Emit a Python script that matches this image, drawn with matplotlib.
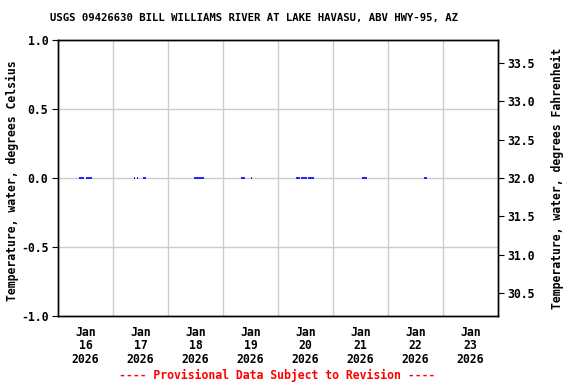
import matplotlib
matplotlib.use("Agg")
import matplotlib.pyplot as plt
import matplotlib.dates as mdates
import numpy as np
import pandas as pd

title = "USGS 09426630 BILL WILLIAMS RIVER AT LAKE HAVASU, ABV HWY-95, AZ"
ylabel_left = "Temperature, water, degrees Celsius"
ylabel_right = "Temperature, water, degrees Fahrenheit"
footer = "---- Provisional Data Subject to Revision ----"

# observed segments (start, end) with water temperature in deg C
seg_start = ["2026-01-16 09:00", "2026-01-16 12:00", "2026-01-17 09:00", "2026-01-17 10:30",
             "2026-01-17 13:15", "2026-01-18 11:15", "2026-01-19 08:00", "2026-01-19 12:00",
             "2026-01-20 08:00", "2026-01-20 10:15", "2026-01-20 13:15", "2026-01-21 12:30",
             "2026-01-22 15:30"]
seg_end = ["2026-01-16 11:15", "2026-01-16 15:00", "2026-01-17 09:45", "2026-01-17 11:00",
           "2026-01-17 14:15", "2026-01-18 15:30", "2026-01-19 09:30", "2026-01-19 12:30",
           "2026-01-20 09:30", "2026-01-20 12:30", "2026-01-20 15:30", "2026-01-21 14:45",
           "2026-01-22 17:00"]
seg_value = [0.0, 0.0, 0.0, 0.0, 0.0, 0.0, 0.0, 0.0, 0.0, 0.0, 0.0, 0.0, 0.0]

day_labels = ["Jan\n16\n2026", "Jan\n17\n2026", "Jan\n18\n2026", "Jan\n19\n2026",
              "Jan\n20\n2026", "Jan\n21\n2026", "Jan\n22\n2026", "Jan\n23\n2026"]
left_ticks = [-1.0, -0.5, 0.0, 0.5, 1.0]
right_ticks = [30.5, 31.0, 31.5, 32.0, 32.5, 33.0, 33.5]

FONT = "DejaVu Sans Mono"
FS = 8.3
FS_TITLE = 7.7

fig = plt.figure(figsize=(5.76, 3.84), dpi=100)
ax = fig.add_axes([58/576, 1-316/384, 440/576, 276/384])

for s, e, v in zip(seg_start, seg_end, seg_value):
    ax.plot([pd.Timestamp(s), pd.Timestamp(e)], [v, v], color="#0000ff", lw=1.2,
            solid_capstyle="butt")

x0 = pd.Timestamp("2026-01-16")
x1 = pd.Timestamp("2026-01-24")
ax.set_xlim(x0, x1)
ax.set_ylim(-1.0, 1.0)

midnights = pd.date_range("2026-01-17", "2026-01-23", freq="D")
for m in midnights:
    ax.axvline(m, color="#cccccc", lw=1.0, zorder=0)
for yv in [-0.5, 0.0, 0.5]:
    ax.axhline(yv, color="#cccccc", lw=1.0, zorder=0)

noons = pd.date_range("2026-01-16 12:00", periods=8, freq="D")
ax.set_xticks(noons)
ax.set_xticklabels(day_labels, fontfamily=FONT, fontweight="bold", fontsize=FS,
                   linespacing=1.05)
ax.tick_params(axis="x", length=0, pad=7)

ax.set_yticks(left_ticks)
ax.set_yticklabels([f"{t:.1f}" for t in left_ticks], fontfamily=FONT,
                   fontweight="bold", fontsize=FS)
ax.tick_params(axis="y", direction="out", length=4, width=0.8, pad=3)
ax.set_ylabel(ylabel_left, fontfamily=FONT, fontweight="bold", fontsize=FS)
ax.yaxis.set_label_coords((19-58)/440, 0.49)

ax2 = ax.twinx()
ax2.set_ylim(-1.0 * 1.8 + 32, 1.0 * 1.8 + 32)
ax2.set_yticks(right_ticks)
ax2.set_yticklabels([f"{t:.1f}" for t in right_ticks], fontfamily=FONT,
                    fontweight="bold", fontsize=FS)
ax2.tick_params(axis="y", direction="out", length=4, width=0.8, pad=3)
ax2.set_ylabel(ylabel_right, fontfamily=FONT, fontweight="bold", fontsize=FS)
ax2.yaxis.set_label_coords((551-58)/440, 0.5)

for a in (ax, ax2):
    for sp in a.spines.values():
        sp.set_color("black")
        sp.set_linewidth(1.0)

fig.text(254/576, 1-18/384, title, ha="center", va="center", fontfamily=FONT,
         fontweight="bold", fontsize=FS_TITLE)
fig.text(277/576, 1-375/384, footer, ha="center", va="center", fontfamily=FONT,
         fontweight="bold", fontsize=FS, color="red")

fig.savefig("out.png", dpi=100)
